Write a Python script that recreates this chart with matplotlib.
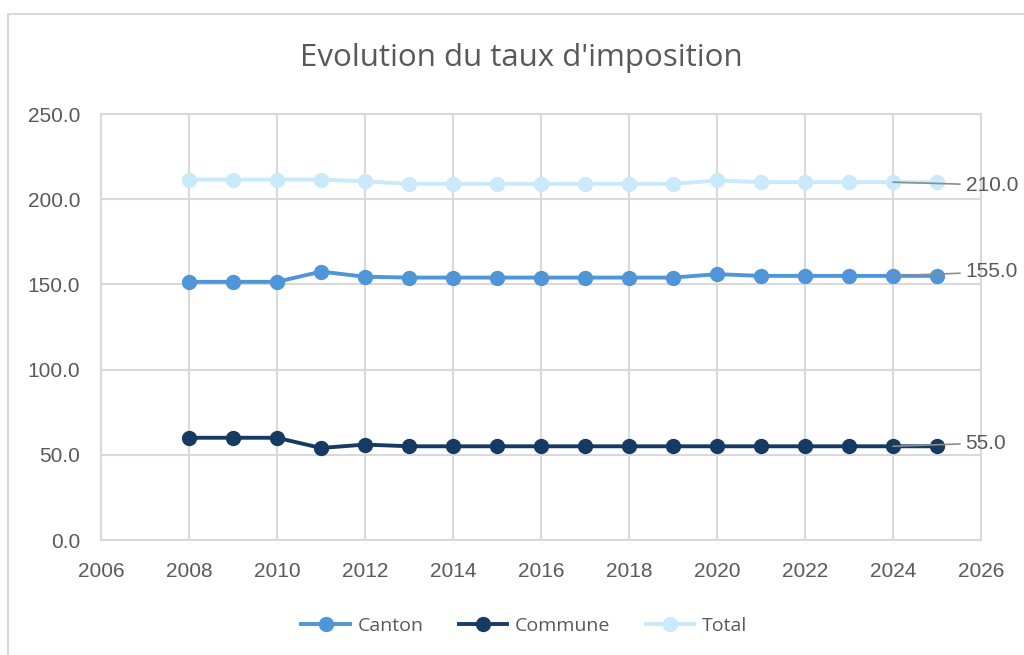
import matplotlib
matplotlib.use("Agg")
import matplotlib.pyplot as plt
from matplotlib.patches import Rectangle

years = list(range(2008, 2026))
canton = [151.5, 151.5, 151.5, 157.5, 154.5, 154, 154, 154, 154, 154, 154, 154,
          156, 155, 155, 155, 155, 155]
commune = [60, 60, 60, 54, 56, 55, 55, 55, 55, 55, 55, 55,
           55, 55, 55, 55, 55, 55]
total = [211.5, 211.5, 211.5, 211.5, 210.5, 209, 209, 209, 209, 209, 209, 209,
         211, 210, 210, 210, 210, 210]

series_names = ["Canton", "Commune", "Total"]
series_colors = ["#4E95D9", "#163B63", "#C8EAFA"]
label_y = [157.3, 56.9, 208.3]

x_ticks = list(range(2006, 2027, 2))
y_ticks = [0, 50, 100, 150, 200, 250]

TEXT = "#595959"
GRID = "#D9D9D9"

fig = plt.figure(figsize=(10.24, 6.55), dpi=100)
fig.patches.append(Rectangle((8 / 1024, -0.1), 1.2, (655 - 14) / 655 + 0.1,
                             transform=fig.transFigure, fill=False,
                             edgecolor="#D9D9D9", linewidth=1.5))
ax = fig.add_axes([101 / 1024, 115 / 655, 880 / 1024, 426 / 655])

for name, vals, col in zip(series_names, [canton, commune, total], series_colors):
    ax.plot(years, vals, color=col, linewidth=2.8, marker="o", markersize=10,
            label=name, zorder=3)

# data labels for last point, with leader lines like Excel
for vals, ly in zip([canton, commune, total], label_y):
    ax.annotate(f"{vals[-1]:.1f}", xy=(2024, vals[-2]), xytext=(2025.65, ly),
                textcoords="data", ha="left", va="center", fontsize=15,
                color=TEXT, family="Liberation Sans", annotation_clip=False,
                arrowprops=dict(arrowstyle="-", color="#8C8C8C", lw=1.2,
                                shrinkA=2, shrinkB=0), zorder=4)

ax.set_xlim(2006, 2026)
ax.set_ylim(0, 250)
ax.set_xticks(x_ticks)
ax.set_yticks(y_ticks)
ax.set_yticklabels([f"{v:.1f}" for v in y_ticks])
ax.grid(True, color=GRID, linewidth=1.5)
ax.set_axisbelow(True)
for s in ax.spines.values():
    s.set_color(GRID)
    s.set_linewidth(1.5)
ax.tick_params(length=0, labelsize=15, labelcolor=TEXT)
ax.tick_params(axis="y", pad=15)
ax.tick_params(axis="x", pad=16)
for lab in ax.get_xticklabels() + ax.get_yticklabels():
    lab.set_family("Liberation Sans")

fig.text(0.509, 0.911, "Evolution du taux d'imposition", ha="center", va="center",
         fontsize=22.5, color=TEXT, family="Open Sans")

fig.legend(loc="center", bbox_to_anchor=(0.512, 0.044), ncol=3, frameon=False,
           prop={"family": "Open Sans", "size": 14}, labelcolor=TEXT,
           handlelength=2.5, columnspacing=1.8, handletextpad=0.4)

fig.savefig("out.png", dpi=100)
